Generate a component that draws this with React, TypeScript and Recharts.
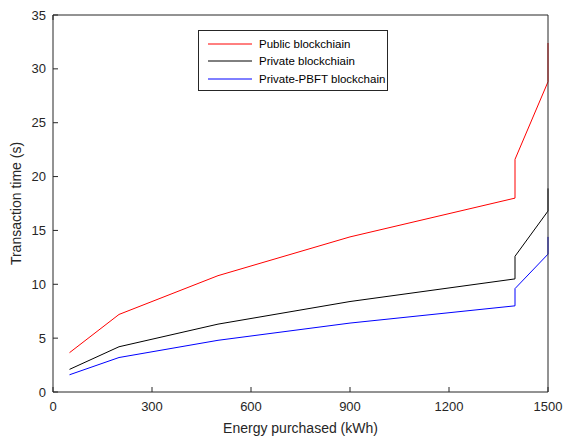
import { Line, LineChart, XAxis, YAxis } from "recharts";

const energy = [50, 200, 500, 900, 1400, 1400, 1500, 1500];
const publicChain = [3.65, 7.2, 10.8, 14.4, 18.0, 21.6, 28.8, 32.4];
const privateChain = [2.1, 4.2, 6.3, 8.4, 10.5, 12.6, 16.8, 18.9];
const pbftChain = [1.6, 3.2, 4.8, 6.4, 8.0, 9.6, 12.8, 14.4];

const xTicks = [0, 300, 600, 900, 1200, 1500];
const yTicks = [0, 5, 10, 15, 20, 25, 30, 35];

const SERIES = [
	{ key: "public", name: "Public blockchiain", color: "#ff0000" },
	{ key: "private", name: "Private blockchiain", color: "#000000" },
	{ key: "pbft", name: "Private-PBFT blockchain", color: "#0000ff" },
];

const chartData = energy.map((e, i) => ({
	energy: e,
	public: publicChain[i],
	private: privateChain[i],
	pbft: pbftChain[i],
}));

const AXIS = "#262626";
const FONT = "'Liberation Sans', Arial, sans-serif";

// MATLAB-style legend box, overlaid inside the plot area
function LegendBox() {
	return (
		<svg
			width={190}
			height={61}
			style={{ position: "absolute", left: 198, top: 30 }}
			fontFamily={FONT}
			fontSize={11.5}
		>
			<rect x={0.5} y={0.5} width={189} height={60} fill="#fff" stroke={AXIS} />
			{SERIES.map((s, i) => {
				const y = 13.5 + i * 17.5;
				const ly = Math.round(y);
				return (
					<g key={s.key}>
						<line x1={10} x2={54} y1={ly} y2={ly} stroke={s.color} strokeWidth={1} />
						<text x={61} y={y} dy="0.35em" fill="#000">
							{s.name}
						</text>
					</g>
				);
			})}
		</svg>
	);
}

export default function App() {
	const hidden = () => "";
	return (
		<div
			style={{
				position: "absolute",
				left: 0,
				top: 0,
				width: 565,
				height: 439,
				background: "#fff",
			}}
		>
			<LineChart
				width={565}
				height={439}
				data={chartData}
				margin={{ top: 0, right: 0, left: 0, bottom: 0 }}
			>
				<XAxis
					dataKey="energy"
					type="number"
					domain={[0, 1500]}
					ticks={xTicks}
					height={47}
					stroke={AXIS}
					tickSize={-5}
					tickMargin={15}
					tick={{ fontSize: 13, fill: AXIS, fontFamily: FONT }}
					allowDuplicatedCategory
					label={{
						value: "Energy purchased (kWh)",
						position: "insideBottom",
						offset: 6,
						fontSize: 14,
						fill: AXIS,
						fontFamily: FONT,
					}}
				/>
				<XAxis
					xAxisId="top"
					orientation="top"
					type="number"
					domain={[0, 1500]}
					ticks={xTicks}
					height={15}
					stroke={AXIS}
					tickSize={-5}
					tickFormatter={hidden}
				/>
				<YAxis
					type="number"
					domain={[0, 35]}
					ticks={yTicks}
					width={53}
					stroke={AXIS}
					tickSize={-5}
					tickMargin={12}
					tick={{ fontSize: 13, fill: AXIS, fontFamily: FONT }}
					label={{
						value: "Transaction time (s)",
						angle: -90,
						position: "insideLeft",
						offset: 16,
						style: { textAnchor: "middle" },
						fontSize: 14,
						fill: AXIS,
						fontFamily: FONT,
					}}
				/>
				<YAxis
					yAxisId="right"
					orientation="right"
					type="number"
					domain={[0, 35]}
					ticks={yTicks}
					width={17}
					stroke={AXIS}
					tickSize={-5}
					tickFormatter={hidden}
				/>
				{SERIES.map((s) => (
					<Line
						key={s.key}
						dataKey={s.key}
						name={s.name}
						stroke={s.color}
						strokeWidth={1}
						dot={false}
						activeDot={false}
						type="linear"
						isAnimationActive={false}
					/>
				))}
			</LineChart>
			<LegendBox />
		</div>
	);
}
